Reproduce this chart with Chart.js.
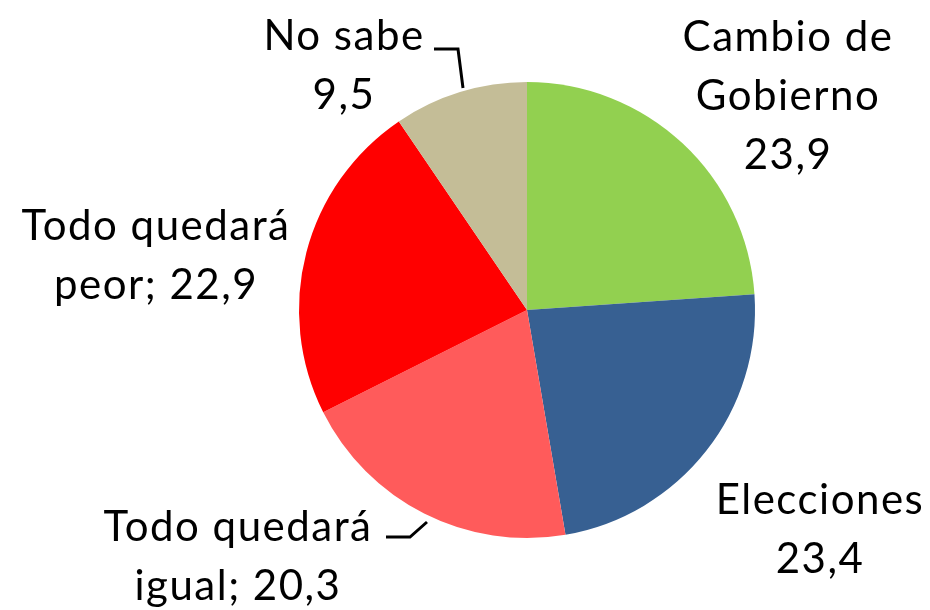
<!DOCTYPE html>
<html>
<head>
<meta charset="utf-8">
<script src="https://cdn.jsdelivr.net/npm/chart.js@4"></script>
<style>
  body { margin: 0; background: #fff; }
  #wrap { width: 930px; height: 610px; }
</style>
</head>
<body>
<div id="wrap"><canvas id="pieChart" width="930" height="610"></canvas></div>
<script>
const categories = ['Cambio de Gobierno', 'Elecciones', 'Todo quedará igual', 'Todo quedará peor', 'No sabe'];
const values = [23.9, 23.4, 20.3, 22.9, 9.5];
const colors = ['#92D050', '#376092', '#FF5B5B', '#FF0000', '#C4BD97'];

// label text lines, in slice order
const labelLines = [
  ['Cambio de', 'Gobierno', '23,9'],
  ['Elecciones', '23,4'],
  ['Todo quedará', 'igual; 20,3'],
  ['Todo quedará', 'peor; 22,9'],
  ['No sabe', '9,5']
];

// where each label block is centred (first line), in pixels
const labelPos = [
  { x: 788, y: 37 },
  { x: 820, y: 500 },
  { x: 238, y: 527 },
  { x: 156, y: 226 },
  { x: 344, y: 36 }
];

const lineHeight = 59;

// leader lines (No sabe, Todo quedará igual)
const leaders = [
  [[434, 49], [458, 49], [463, 88]],
  [[386, 537], [410, 537], [427, 522]]
];

const labelsPlugin = {
  id: 'outerLabels',
  afterDraw(chart) {
    const c = chart.ctx;
    c.save();
    c.font = '42px Lato';
    c.letterSpacing = '1.5px';
    c.fillStyle = '#000';
    c.textAlign = 'center';
    c.textBaseline = 'middle';
    labelLines.forEach((lines, i) => {
      lines.forEach((t, j) => c.fillText(t, labelPos[i].x, labelPos[i].y + j * lineHeight));
    });

    c.strokeStyle = '#000';
    c.lineWidth = 3;
    leaders.forEach(pts => {
      c.beginPath();
      pts.forEach((p, k) => k ? c.lineTo(p[0], p[1]) : c.moveTo(p[0], p[1]));
      c.stroke();
    });
    c.restore();
  }
};

new Chart(document.getElementById('pieChart').getContext('2d'), {
  type: 'pie',
  data: {
    labels: categories,
    datasets: [{
      data: values,
      backgroundColor: colors,
      borderWidth: 0
    }]
  },
  options: {
    responsive: false,
    animation: false,
    layout: { padding: { top: 82, bottom: 72, left: 299, right: 175 } },
    plugins: {
      legend: { display: false },
      tooltip: { enabled: false }
    }
  },
  plugins: [labelsPlugin]
});
</script>
</body>
</html>
